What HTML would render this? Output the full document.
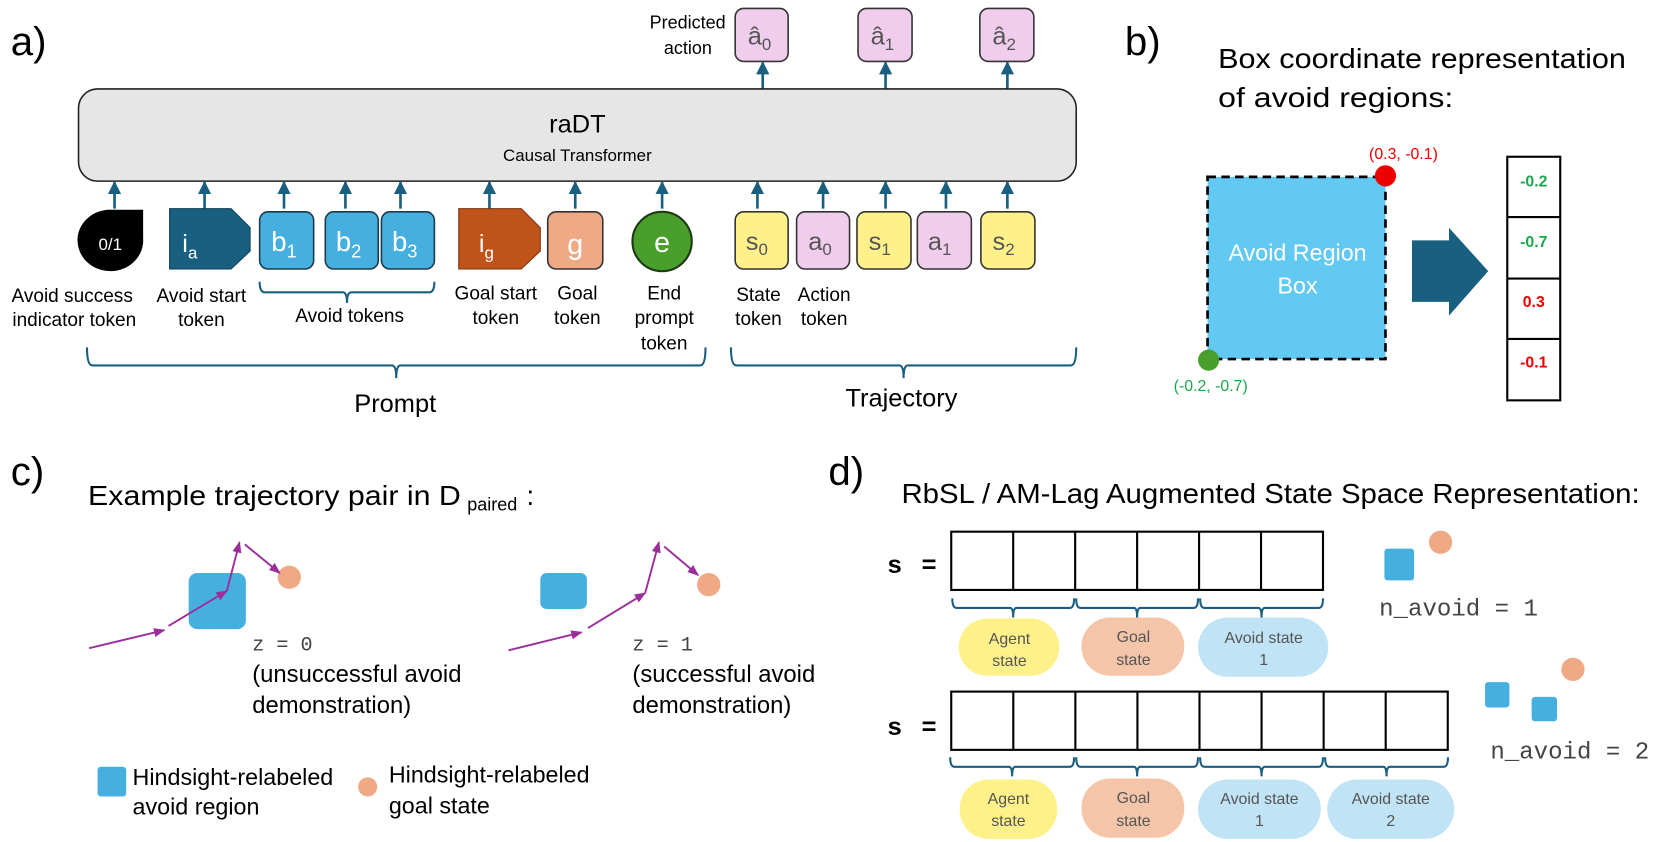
<!DOCTYPE html>
<html><head><meta charset="utf-8"><style>
html,body{margin:0;padding:0;background:#fff;}
svg{display:block;}
text{font-family:"Liberation Sans",sans-serif;}
.m{font-family:"Liberation Mono",monospace;}
</style></head><body>
<svg id="s" width="1661" height="842" viewBox="0 0 1568 795" xmlns="http://www.w3.org/2000/svg">
<defs>
<marker id="ah" viewBox="0 0 10 10" refX="9" refY="5" markerWidth="5" markerHeight="5" orient="auto"><path d="M0,0 L10,5 L0,10 z" fill="#1a5f80"/></marker>
<marker id="pa" viewBox="0 0 10 10" refX="9" refY="5" markerWidth="6" markerHeight="6" orient="auto"><path d="M0,1 L10,5 L0,9 z" fill="#9b2e9b"/></marker>
</defs>
<!-- panel a -->
<text x="10" y="52" font-size="38">a)</text>
<text x="685" y="27" font-size="17" text-anchor="end">Predicted</text>
<text x="672" y="51" font-size="17" text-anchor="end">action</text>
<g stroke="#333" stroke-width="1.5" fill="#f0cdec">
<rect x="694" y="8" width="50" height="50" rx="8"/>
<rect x="810" y="8" width="51" height="50" rx="8"/>
<rect x="925" y="8" width="51" height="50" rx="8"/>
</g>
<g font-size="24" fill="#555" text-anchor="middle">
<text x="717" y="42">â<tspan font-size="16" dy="5">0</tspan></text>
<text x="833" y="42">â<tspan font-size="16" dy="5">1</tspan></text>
<text x="948" y="42">â<tspan font-size="16" dy="5">2</tspan></text>
</g>
<g stroke="#1a5f80" stroke-width="2.5" marker-end="url(#ah)">
<line x1="720" y1="84" x2="720" y2="59"/><line x1="836" y1="84" x2="836" y2="59"/><line x1="951" y1="84" x2="951" y2="59"/>
</g>
<rect x="74" y="84" width="942" height="87" rx="18" fill="#e6e6e6" stroke="#222" stroke-width="1.5"/>
<text x="545" y="125" font-size="24" text-anchor="middle">raDT</text>
<text x="545" y="152" font-size="16" text-anchor="middle">Causal Transformer</text>
<g id="uparr" stroke="#1a5f80" stroke-width="2.5"></g>
<path d="M104,198 L135,198 L135,225 A31,29 0 1 1 104,198 Z" fill="#000"/>
<path d="M73,227 A31,29 0 0 1 104,198" fill="#000"/>
<text x="104" y="236" font-size="16" fill="#fff" text-anchor="middle">0/1</text>
<path d="M160,197 L218,197 L236,215 L236,237 L218,254 L160,254 Z" fill="#185f80" stroke="#0e3e55" stroke-width="1"/>
<text x="172" y="238" font-size="24" fill="#fff">i<tspan font-size="16" dy="6">a</tspan></text>
<g fill="#45b0e0" stroke="#1d3b4d" stroke-width="1.5">
<rect x="245" y="200" width="51" height="54" rx="8"/>
<rect x="307" y="200" width="50" height="54" rx="8"/>
<rect x="360" y="200" width="50" height="54" rx="8"/>
</g>
<g font-size="26" fill="#fff"><text x="256" y="237">b<tspan font-size="17" dy="6">1</tspan></text><text x="317" y="237">b<tspan font-size="17" dy="6">2</tspan></text><text x="370" y="237">b<tspan font-size="17" dy="6">3</tspan></text></g>
<path d="M433,197 L492,197 L510,215 L510,237 L492,254 L433,254 Z" fill="#c0531a" stroke="#7a3410" stroke-width="1"/>
<text x="452" y="238" font-size="24" fill="#fff">i<tspan font-size="16" dy="6">g</tspan></text>
<rect x="517" y="200" width="52" height="54" rx="8" fill="#f0a985" stroke="#333" stroke-width="1.5"/>
<text x="543" y="240" font-size="27" fill="#fff" text-anchor="middle">g</text>
<circle cx="625" cy="228" r="28" fill="#4a9e2c" stroke="#1e3a14" stroke-width="2"/>
<text x="625" y="238" font-size="27" fill="#fff" text-anchor="middle">e</text>
<g stroke="#333" stroke-width="1.5">
<rect x="694" y="200" width="50" height="54" rx="8" fill="#fff08a"/>
<rect x="752" y="200" width="50" height="54" rx="8" fill="#f0cdec"/>
<rect x="809" y="200" width="51" height="54" rx="8" fill="#fff08a"/>
<rect x="866" y="200" width="51" height="54" rx="8" fill="#f0cdec"/>
<rect x="926" y="200" width="51" height="54" rx="8" fill="#fff08a"/>
</g>
<g font-size="24" fill="#555"><text x="704" y="236">s<tspan font-size="16" dy="5">0</tspan></text><text x="763" y="236">a<tspan font-size="16" dy="5">0</tspan></text><text x="820" y="236">s<tspan font-size="16" dy="5">1</tspan></text><text x="876" y="236">a<tspan font-size="16" dy="5">1</tspan></text><text x="937" y="236">s<tspan font-size="16" dy="5">2</tspan></text></g>
<g font-size="18" text-anchor="middle">
<text x="68" y="285">Avoid success</text><text x="70" y="308">indicator token</text>
<text x="190" y="285">Avoid start</text><text x="190" y="308">token</text>
<text x="330" y="304">Avoid tokens</text>
<text x="468" y="283">Goal start</text><text x="468" y="306">token</text>
<text x="545" y="283">Goal</text><text x="545" y="306">token</text>
<text x="627" y="283">End</text><text x="627" y="306">prompt</text><text x="627" y="330">token</text>
<text x="716" y="284">State</text><text x="716" y="307">token</text>
<text x="778" y="284">Action</text><text x="778" y="307">token</text>
</g>
<g id="braces" fill="none" stroke="#1a5f80" stroke-width="2"></g>
<text x="373" y="389" font-size="24" text-anchor="middle">Prompt</text>
<text x="851" y="384" font-size="24" text-anchor="middle">Trajectory</text>
<!-- panel b -->
<text x="1062" y="52" font-size="38">b)</text>
<text x="1150" y="64" font-size="26" textLength="385" lengthAdjust="spacingAndGlyphs">Box coordinate representation</text>
<text x="1150" y="101" font-size="26" textLength="222" lengthAdjust="spacingAndGlyphs">of avoid regions:</text>
<rect x="1140" y="167" width="168" height="172" fill="#62c9f2" stroke="#000" stroke-width="2.5" stroke-dasharray="8,5"/>
<text x="1225" y="246" font-size="22" fill="#fff" text-anchor="middle">Avoid Region</text>
<text x="1225" y="277" font-size="22" fill="#fff" text-anchor="middle">Box</text>
<circle cx="1308" cy="166" r="10" fill="#e00"/>
<text x="1325" y="150" font-size="15" fill="#e00" text-anchor="middle">(0.3, -0.1)</text>
<circle cx="1141" cy="340" r="10" fill="#4a9e2c"/>
<text x="1143" y="369" font-size="15" fill="#1aa84a" text-anchor="middle">(-0.2, -0.7)</text>
<path d="M1333,227 L1368,227 L1368,215 L1405,256 L1368,298 L1368,285 L1333,285 Z" fill="#185f80"/>
<g fill="none" stroke="#000" stroke-width="2">
<rect x="1423" y="148" width="50" height="230"/>
<line x1="1423" y1="205" x2="1473" y2="205"/><line x1="1423" y1="263" x2="1473" y2="263"/><line x1="1423" y1="320" x2="1473" y2="320"/>
</g>
<g font-size="15" font-weight="bold" text-anchor="middle">
<text x="1448" y="176" fill="#1aa84a">-0.2</text>
<text x="1448" y="233" fill="#1aa84a">-0.7</text>
<text x="1448" y="290" fill="#e00">0.3</text>
<text x="1448" y="347" fill="#e00">-0.1</text>
</g>
<!-- panel c -->
<text x="10" y="458" font-size="38">c)</text>
<text x="83" y="477" font-size="26" textLength="352" lengthAdjust="spacingAndGlyphs">Example trajectory pair in D</text>
<text x="441" y="482" font-size="17">paired</text>
<text x="497" y="477" font-size="26">:</text>
<rect x="178" y="541" width="54" height="53" rx="8" fill="#45b0e0"/>
<circle cx="273" cy="545" r="11" fill="#f0a985"/>
<rect x="510" y="541" width="44" height="34" rx="6" fill="#45b0e0"/>
<circle cx="669" cy="552" r="11" fill="#f0a985"/>
<g stroke="#9b2e9b" stroke-width="1.8" marker-end="url(#pa)">
<line x1="84" y1="612" x2="155" y2="595"/><line x1="159" y1="591" x2="214" y2="558"/><line x1="214" y1="558" x2="226" y2="512"/><line x1="231" y1="514" x2="264" y2="541"/>
<line x1="480" y1="614" x2="549" y2="597"/><line x1="555" y1="593" x2="609" y2="560"/><line x1="609" y1="560" x2="622" y2="512"/><line x1="627" y1="516" x2="659" y2="543"/>
</g>
<text class="m" x="238" y="614" font-size="19" fill="#444">z = 0</text>
<text x="238" y="644" font-size="22.5">(unsuccessful avoid</text>
<text x="238" y="673" font-size="22.5">demonstration)</text>
<text class="m" x="597" y="614" font-size="19" fill="#444">z = 1</text>
<text x="597" y="644" font-size="22.5">(successful avoid</text>
<text x="597" y="673" font-size="22.5">demonstration)</text>
<rect x="92" y="724" width="27" height="28" rx="3" fill="#45b0e0"/>
<text x="125" y="741" font-size="22">Hindsight-relabeled</text>
<text x="125" y="769" font-size="22">avoid region</text>
<circle cx="347" cy="743" r="9" fill="#f0a985"/>
<text x="367" y="739" font-size="22">Hindsight-relabeled</text>
<text x="367" y="768" font-size="22">goal state</text>
<!-- panel d -->
<text x="782" y="458" font-size="38">d)</text>
<text x="851" y="475" font-size="26" textLength="697" lengthAdjust="spacingAndGlyphs">RbSL / AM-Lag Augmented State Space Representation:</text>
<g font-size="24" font-weight="bold"><text x="838" y="541">s</text><text x="870" y="541">=</text><text x="838" y="694">s</text><text x="870" y="694">=</text></g>
<g id="grids" fill="none" stroke="#000" stroke-width="2"></g>
<g font-size="15" fill="#555" text-anchor="middle">
<rect x="905" y="584" width="95" height="54" rx="27" fill="#fff18a"/>
<text x="953" y="608">Agent</text><text x="953" y="629">state</text>
<rect x="1021" y="583" width="97" height="55" rx="27" fill="#f5c5aa"/>
<text x="1070" y="606">Goal</text><text x="1070" y="628">state</text>
<rect x="1131" y="583" width="123" height="56" rx="28" fill="#c0e4f5"/>
<text x="1193" y="607">Avoid state</text><text x="1193" y="628">1</text>
<rect x="906" y="736" width="92" height="56" rx="27" fill="#fff18a"/>
<text x="952" y="759">Agent</text><text x="952" y="780">state</text>
<rect x="1021" y="735" width="97" height="56" rx="27" fill="#f5c5aa"/>
<text x="1070" y="758">Goal</text><text x="1070" y="780">state</text>
<rect x="1131" y="736" width="116" height="56" rx="28" fill="#c0e4f5"/>
<text x="1189" y="759">Avoid state</text><text x="1189" y="780">1</text>
<rect x="1253" y="736" width="120" height="56" rx="28" fill="#c0e4f5"/>
<text x="1313" y="759">Avoid state</text><text x="1313" y="780">2</text>
</g>
<rect x="1307" y="518" width="28" height="30" rx="3" fill="#45b0e0"/>
<circle cx="1360" cy="512" r="11" fill="#f0a985"/>
<text class="m" x="1302" y="581" font-size="23" fill="#444" textLength="150" lengthAdjust="spacingAndGlyphs">n_avoid = 1</text>
<rect x="1402" y="644" width="23" height="24" rx="3" fill="#45b0e0"/>
<rect x="1446" y="658" width="24" height="23" rx="3" fill="#45b0e0"/>
<circle cx="1485" cy="632" r="11" fill="#f0a985"/>
<text class="m" x="1407" y="716" font-size="23" fill="#444" textLength="150" lengthAdjust="spacingAndGlyphs">n_avoid = 2</text>
</svg>
<script>
var NS="http://www.w3.org/2000/svg";
function el(p,t,a){var e=document.createElementNS(NS,t);for(var k in a)e.setAttribute(k,a[k]);document.getElementById(p).appendChild(e);}
[108,193,268,326,378,462,543,625,715,777,836,893,951].forEach(function(x){el("uparr","line",{x1:x,y1:197,x2:x,y2:172,"marker-end":"url(#ah)"});});
function brace(x1,x2,yt,yb,tip){var m=(x1+x2)/2;el("braces","path",{d:"M"+x1+","+yt+" Q"+x1+","+yb+" "+(x1+5)+","+yb+" L"+(m-4)+","+yb+" Q"+m+","+yb+" "+m+","+tip+" Q"+m+","+yb+" "+(m+4)+","+yb+" L"+(x2-5)+","+yb+" Q"+x2+","+yb+" "+x2+","+yt});}
brace(245,410,266,276,286);
brace(82,666,328,345,357);
brace(690,1016,328,345,357);
function grid(x,y,n,w,h){el("grids","rect",{x:x,y:y,width:n*w,height:h});for(var i=1;i<n;i++)el("grids","line",{x1:x+i*w,y1:y,x2:x+i*w,y2:y+h});}
grid(898,502,6,58.5,55);
grid(898,653,8,58.6,55);
function br2(x1,x2,yt,yb,tip){var m=(x1+x2)/2;el("braces","path",{d:"M"+x1+","+yt+" Q"+x1+","+yb+" "+(x1+4)+","+yb+" L"+(m-3)+","+yb+" Q"+m+","+yb+" "+m+","+tip+" Q"+m+","+yb+" "+(m+3)+","+yb+" L"+(x2-4)+","+yb+" Q"+x2+","+yb+" "+x2+","+yt});}
br2(899,1014,565,574,583);br2(1016,1131,565,574,583);br2(1133,1249,565,574,583);
br2(897,1014,715,724,733);br2(1016,1131,715,724,733);br2(1133,1249,715,724,733);br2(1251,1367,715,724,733);
</script>
</body></html>
